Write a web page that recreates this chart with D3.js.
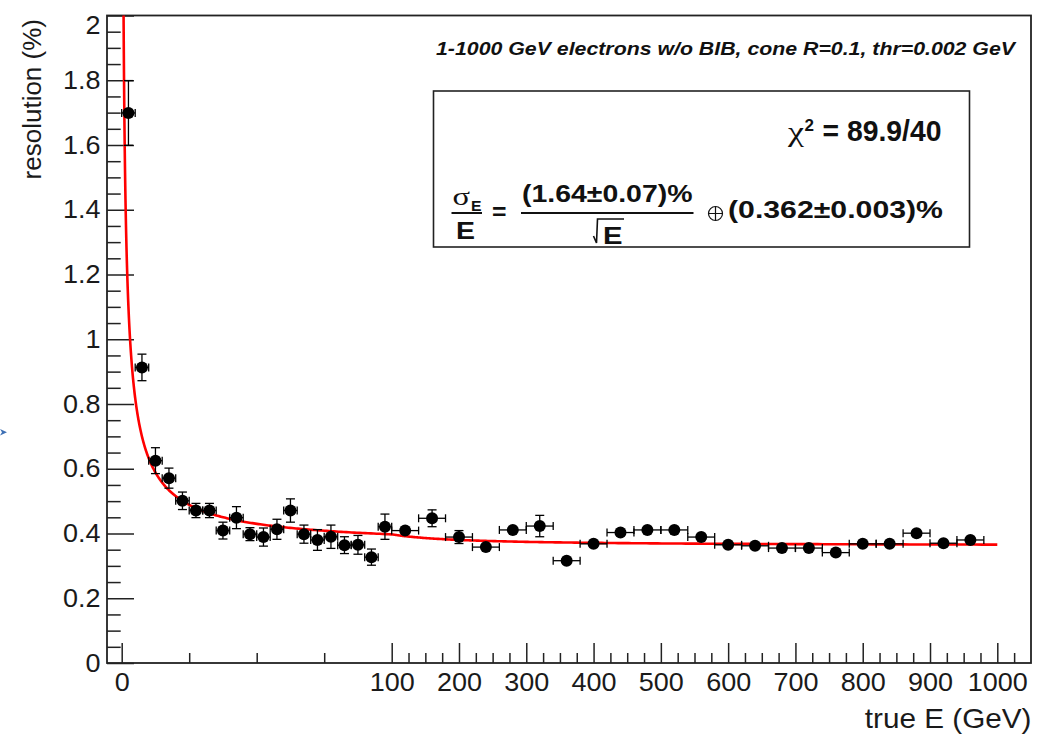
<!DOCTYPE html>
<html>
<head>
<meta charset="utf-8">
<script src="https://cdn.jsdelivr.net/npm/d3@7"></script>
<style>
  html, body { margin: 0; padding: 0; background: #fff; }
  svg { display: block; font-family: "Liberation Sans", Arial, sans-serif; }
</style>
</head>
<body>
<div id="chart"></div>
<script>
// bins of 5 GeV below 100 GeV
const energyLow = [2.5, 7.5, 12.5, 17.5, 22.5, 27.5, 32.5, 37.5, 42.5, 47.5,
                   52.5, 57.5, 62.5, 67.5, 72.5, 77.5, 82.5, 87.5, 92.5, 97.5];
const resLow = [1.699, 0.913, 0.625, 0.571, 0.501, 0.471, 0.471, 0.409, 0.449, 0.398,
                0.389, 0.413, 0.471, 0.398, 0.380, 0.390, 0.364, 0.365, 0.327, 0.421];
const errLow = [0.100, 0.041, 0.040, 0.031, 0.027, 0.022, 0.022, 0.026, 0.034, 0.020,
                0.028, 0.031, 0.036, 0.028, 0.032, 0.036, 0.026, 0.029, 0.025, 0.039];

// bins of 40 GeV above 100 GeV
const energyHigh = [120, 160, 200, 240, 280, 320, 360, 400, 440, 480, 520,
                    560, 600, 640, 680, 720, 760, 800, 840, 880, 920, 960];
const resHigh = [0.409, 0.447, 0.389, 0.358, 0.411, 0.423, 0.316, 0.368, 0.403, 0.411, 0.411,
                 0.389, 0.365, 0.362, 0.355, 0.355, 0.341, 0.368, 0.368, 0.401, 0.370, 0.380];
const errHigh = [0.012, 0.026, 0.020, 0.012, 0.012, 0.033, 0.010, 0.010, 0.012, 0.010, 0.010,
                 0.010, 0.010, 0.010, 0.010, 0.010, 0.010, 0.010, 0.010, 0.010, 0.010, 0.010];

// fit parameters shown in the box
const fitStochastic = 1.64;
const fitConstant = 0.362;

const xTickLabels = [0, 100, 200, 300, 400, 500, 600, 700, 800, 900, 1000];
const yTickLabels = [0, 0.2, 0.4, 0.6, 0.8, 1, 1.2, 1.4, 1.6, 1.8, 2];

const width = 1042, height = 734;
const frame = { left: 107, right: 1031, top: 15.5, bottom: 663 };

const svg = d3.select("#chart").append("svg")
  .attr("width", width).attr("height", height);

// stretched axis: 0-100 GeV takes 4x the room of the rest
const x = d3.scaleLinear().domain([0, 100, 1000]).range([121.7, 391.7, 997.3]);
const y = d3.scaleLinear().domain([0, 2]).range([frame.bottom, frame.top]);

svg.append("defs").append("clipPath").attr("id", "clip")
  .append("rect")
  .attr("x", frame.left).attr("y", frame.top)
  .attr("width", frame.right - frame.left).attr("height", frame.bottom - frame.top);

// frame
svg.append("rect")
  .attr("x", frame.left).attr("y", frame.top)
  .attr("width", frame.right - frame.left).attr("height", frame.bottom - frame.top)
  .attr("fill", "none").attr("stroke", "#222").attr("stroke-width", 1.8);

// x axis
const xMinor = d3.range(0, 1050, 25).filter(v => v % 100 !== 0);
const gxMinor = svg.append("g").attr("transform", `translate(0,${frame.bottom})`)
  .call(d3.axisBottom(x).tickValues(xMinor).tickSize(-10).tickFormat(""));
const gx = svg.append("g").attr("transform", `translate(0,${frame.bottom})`)
  .call(d3.axisBottom(x).tickValues(xTickLabels).tickSize(-20).tickPadding(10).tickFormat(d3.format("d")));

// y axis
const yMinor = d3.range(0, 2.001, 0.05).filter(v => Math.abs(v * 5 - Math.round(v * 5)) > 1e-6);
const gyMinor = svg.append("g").attr("transform", `translate(${frame.left},0)`)
  .call(d3.axisLeft(y).tickValues(yMinor).tickSize(-13.7).tickFormat(""));
const gy = svg.append("g").attr("transform", `translate(${frame.left},0)`)
  .call(d3.axisLeft(y).tickValues(yTickLabels).tickSize(-27).tickPadding(6).tickFormat(d3.format("~g")));

[gx, gxMinor, gy, gyMinor].forEach(g => {
  g.select(".domain").remove();
  g.selectAll(".tick line").attr("stroke", "#222").attr("stroke-width", 1.5);
  g.selectAll("text")
    .attr("fill", "#1a1a1a")
    .attr("font-family", "'Liberation Sans', Arial, sans-serif")
    .attr("font-size", 25)
    .attr("transform", "scale(1.08,1)");
});
gy.selectAll(".tick text").filter(d => d === 2).attr("dy", "0.71em");

// axis titles
svg.append("text")
  .attr("transform", `translate(1031.5,728) scale(1.1,1)`)
  .attr("text-anchor", "end").attr("font-size", 27).attr("fill", "#1a1a1a")
  .text("true E (GeV)");
svg.append("text")
  .attr("transform", "translate(40.5,19) rotate(-90)")
  .attr("text-anchor", "end").attr("font-size", 26).attr("fill", "#1a1a1a")
  .text("resolution (%)");

// fit curve
const fitE = d3.range(-0.2, 3.0001, 0.005).map(p => Math.pow(10, p));
const fitLine = d3.line()
  .x(e => x(e))
  .y(e => y(Math.sqrt(Math.pow(fitStochastic / Math.sqrt(e), 2) + fitConstant * fitConstant)));
svg.append("path")
  .datum(fitE)
  .attr("clip-path", "url(#clip)")
  .attr("d", fitLine)
  .attr("fill", "none").attr("stroke", "#ff0000").attr("stroke-width", 2.6);

// points with error bars
const points = energyLow.map((e, i) => ({ e, r: resLow[i], ey: errLow[i], ex: 2.5 }))
  .concat(energyHigh.map((e, i) => ({ e, r: resHigh[i], ey: errHigh[i], ex: 20 })));

const markerR = 6;
const pg = svg.append("g").attr("stroke", "#000").attr("stroke-width", 1.3);
points.forEach(d => {
  const cx = x(d.e), cy = y(d.r);
  const x0 = x(d.e - d.ex), x1 = x(d.e + d.ex);
  const y0 = y(d.r + d.ey), y1 = y(d.r - d.ey);
  if (x1 - cx > markerR) {
    pg.append("line").attr("x1", x0).attr("x2", x1).attr("y1", cy).attr("y2", cy);
    pg.append("line").attr("x1", x0).attr("x2", x0).attr("y1", cy - 4).attr("y2", cy + 4);
    pg.append("line").attr("x1", x1).attr("x2", x1).attr("y1", cy - 4).attr("y2", cy + 4);
  }
  if (y1 - cy > markerR) {
    pg.append("line").attr("x1", cx).attr("x2", cx).attr("y1", y0).attr("y2", y1);
    pg.append("line").attr("x1", cx - 4.5).attr("x2", cx + 4.5).attr("y1", y0).attr("y2", y0);
    pg.append("line").attr("x1", cx - 4.5).attr("x2", cx + 4.5).attr("y1", y1).attr("y2", y1);
  }
});
svg.append("g").selectAll("circle").data(points).join("circle")
  .attr("cx", d => x(d.e)).attr("cy", d => y(d.r)).attr("r", markerR)
  .attr("fill", "#000");

// title
svg.append("text")
  .attr("x", 436).attr("y", 55)
  .attr("textLength", 579).attr("lengthAdjust", "spacingAndGlyphs")
  .attr("font-size", 17.5).attr("font-weight", "bold").attr("font-style", "italic")
  .attr("fill", "#111")
  .text("1-1000 GeV electrons w/o BIB, cone R=0.1, thr=0.002 GeV");

// fit box
const box = svg.append("g");
box.append("rect").attr("x", 433.5).attr("y", 91).attr("width", 536).attr("height", 156)
  .attr("fill", "#fff").attr("stroke", "#222").attr("stroke-width", 1.6);

function txt(s, xPos, yPos, size, opts = {}) {
  const t = box.append("text").attr("x", xPos).attr("y", yPos)
    .attr("font-size", size).attr("fill", "#111")
    .attr("font-weight", opts.bold ? "bold" : "normal")
    .text(s);
  if (opts.len) t.attr("textLength", opts.len).attr("lengthAdjust", "spacingAndGlyphs");
  if (opts.family) t.attr("font-family", opts.family);
  return t;
}

// chi2 line
txt("χ", 788, 141, 27, { family: "'Liberation Serif', serif", len: 16 });
box.append("text").attr("x", 804.5).attr("y", 131)
  .attr("font-size", "17px").attr("font-weight", "bold").attr("fill", "#111")
  .text("2");
txt("= 89.9/40", 822.5, 140.5, 29, { bold: true, len: 119 });

// sigma_E / E
txt("σ", 452.5, 205, 26, { family: "'Liberation Serif', serif", len: 17.5 });
txt("E", 471, 210.5, 14, { bold: true, len: 10.5 });
box.append("line").attr("x1", 451.5).attr("x2", 482).attr("y1", 213).attr("y2", 213)
  .attr("stroke", "#111").attr("stroke-width", 2);
txt("E", 456, 238.5, 23, { bold: true, len: 19 });
txt("=", 492, 220, 24, { bold: true, len: 14.5 });

// (1.64 +- 0.07)% / sqrt(E)
txt("(1.64±0.07)%", 522, 202, 23, { bold: true, len: 170.5 });
box.append("line").attr("x1", 521).attr("x2", 693.5).attr("y1", 213).attr("y2", 213)
  .attr("stroke", "#111").attr("stroke-width", 2);
box.append("path").attr("d", "M593.5,236 L596.5,243 L597.5,219 L624,219")
  .attr("fill", "none").attr("stroke", "#111").attr("stroke-width", 1.6);
txt("E", 603, 243.5, 23, { bold: true, len: 19.5 });

// oplus
box.append("circle").attr("cx", 715.5).attr("cy", 213.5).attr("r", 7)
  .attr("fill", "none").attr("stroke", "#111").attr("stroke-width", 1.2);
box.append("path").attr("d", "M708.5,213.5 H722.5 M715.5,206.5 V220.5")
  .attr("stroke", "#111").attr("stroke-width", 1.2);

txt("(0.362±0.003)%", 728, 218, 24, { bold: true, len: 215 });

// small blue arrow at the left edge of the picture
svg.append("path").attr("d", "M0,429 L7,432.3 L0,435.6 L2,432.3 Z").attr("fill", "#3d6fb4");
</script>
</body>
</html>
